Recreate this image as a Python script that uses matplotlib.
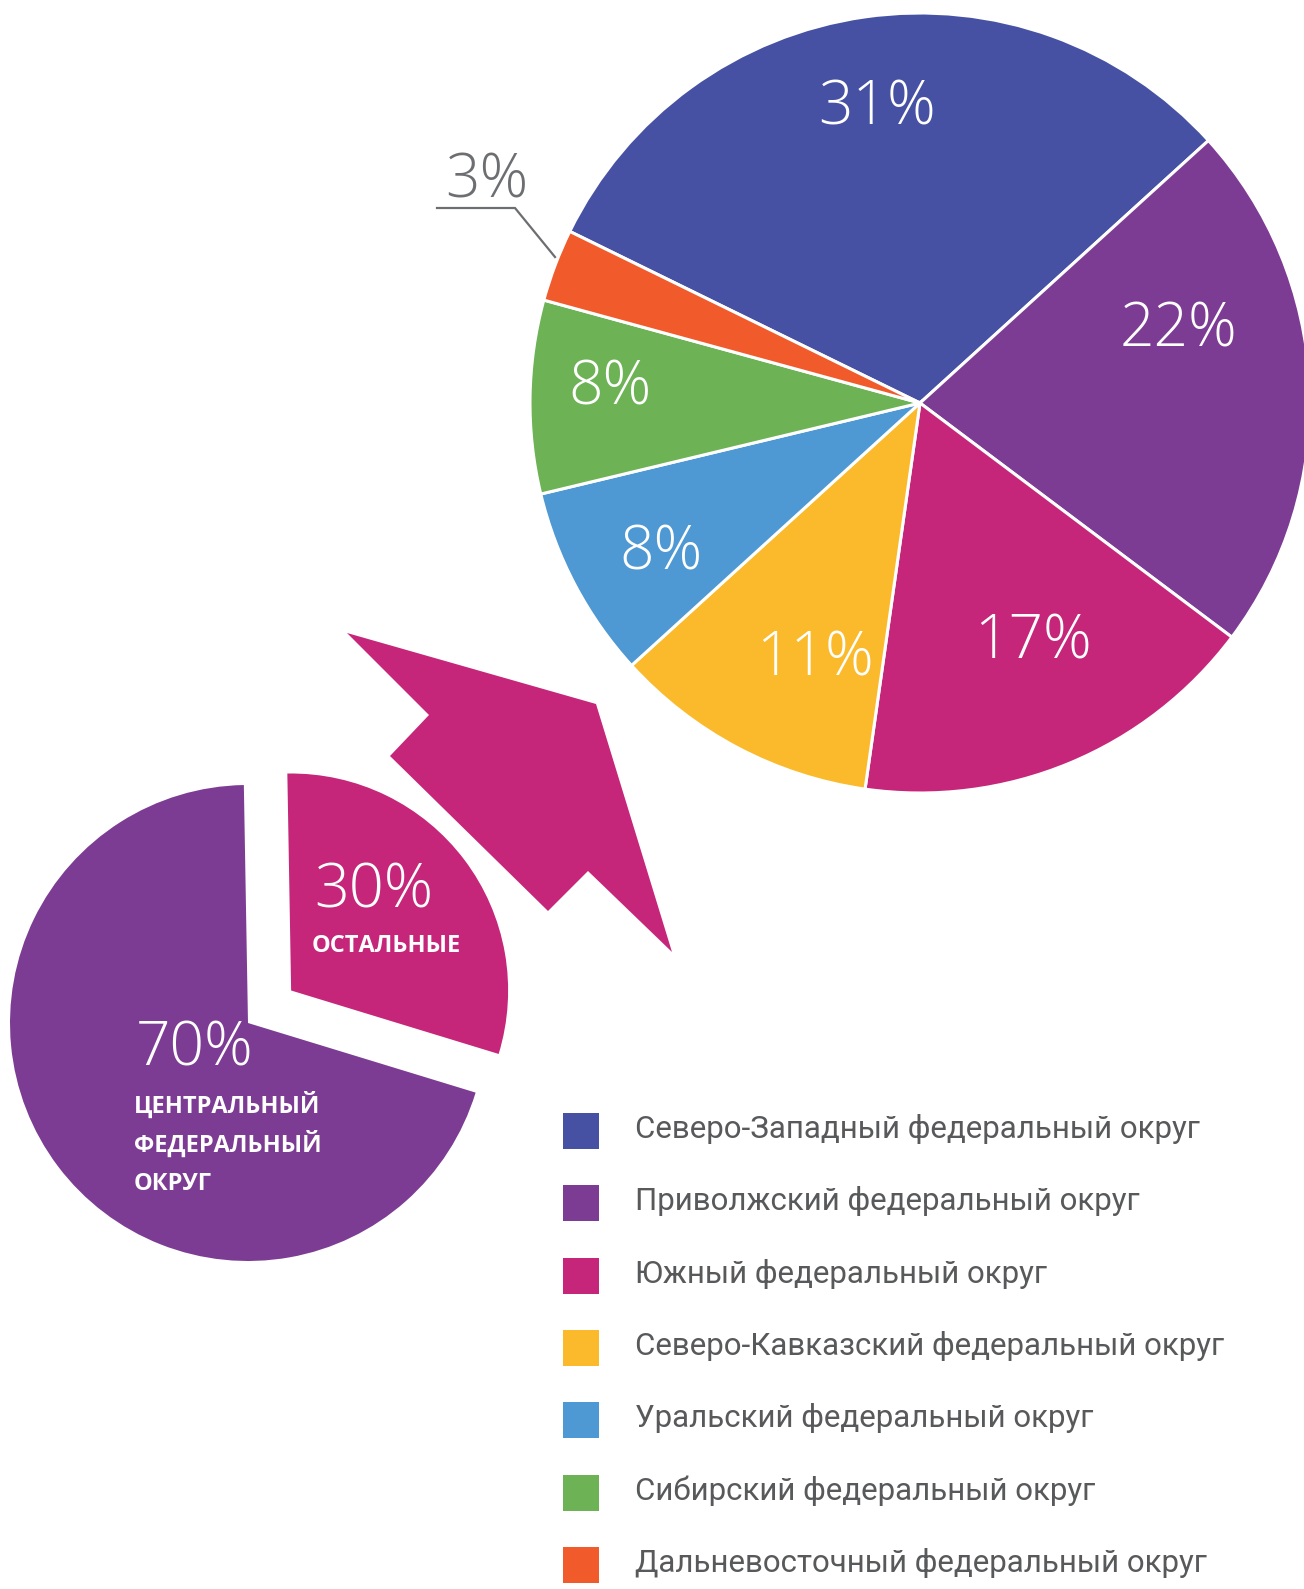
import matplotlib
matplotlib.use("Agg")
import matplotlib.pyplot as plt
from matplotlib.patches import Polygon
import numpy as np

# data
districts = [
    "Северо-Западный федеральный округ",
    "Приволжский федеральный округ",
    "Южный федеральный округ",
    "Северо-Кавказский федеральный округ",
    "Уральский федеральный округ",
    "Сибирский федеральный округ",
    "Дальневосточный федеральный округ",
]
shares = [31, 22, 17, 11, 8, 8, 3]
colors = ["#4651A3", "#7D3C93", "#C6267A", "#FBBA2B", "#4E98D3", "#6DB255", "#F15A2A"]

split_labels = ["70%", "30%"]
split_values = [70, 30]
split_colors = ["#7D3C93", "#C6267A"]

W, H = 1304, 1589
GRAY = "#58595B"
NUM_FONT = ["Open Sans", "DejaVu Sans"]
TXT_FONT = ["Roboto", "DejaVu Sans"]


def fy(y):
    # pixel row (from top) -> data y
    return H - y


fig = plt.figure(figsize=(W / 100, H / 100), dpi=100)
ax = fig.add_axes([0, 0, 1, 1])

# big pie
big_center = (920, fy(403))
big_r = 390
wedges, _ = ax.pie(shares, colors=colors, startangle=153.9, counterclock=False,
                   center=big_center, radius=big_r,
                   wedgeprops=dict(edgecolor="white", linewidth=2.2))

# label baselines inside big pie (offsets from centre, in radii)
label_pos = [(-0.110, 0.713), (0.662, 0.144), (0.290, -0.654), (-0.269, -0.700),
             (-0.664, -0.428), (-0.795, -0.005)]
for val, (dx, dy) in zip(shares[:-1], label_pos):
    ax.text(big_center[0] + dx * big_r, big_center[1] + dy * big_r, f"{val}%",
            color="white", fontsize=43.5, fontweight="light", family=NUM_FONT,
            ha="center", va="baseline")

# 3% callout
ax.text(445, fy(198), f"{shares[-1]}%", color="#6D6E71", fontsize=43.5,
        fontweight="light", family=NUM_FONT, ha="left", va="baseline")
ax.plot([437, 515, 555], [fy(208), fy(208), fy(257)], color="#6D6E71", lw=1.6,
        solid_joinstyle="miter")

# small pie: Central district vs the rest
small_center = (248, fy(1023))
small_r = 238
sw, _ = ax.pie(split_values, colors=split_colors, startangle=91,
               center=small_center, radius=small_r)
# pull out "the rest" slice and shrink it a bit
w = sw[1]
mid = np.deg2rad((w.theta1 + w.theta2) / 2)
w.set_center((small_center[0] + 54 * np.cos(mid), small_center[1] + 54 * np.sin(mid)))
w.set_radius(217)

ax.text(314, fy(907), split_labels[1], color="white", fontsize=44, fontweight="light",
        family=NUM_FONT, ha="left", va="baseline")
ax.text(312, fy(952), "ОСТАЛЬНЫЕ", color="white", fontsize=17, fontweight="bold",
        family=NUM_FONT, ha="left", va="baseline")
ax.text(136, fy(1065), split_labels[0], color="white", fontsize=43.5, fontweight="light",
        family=NUM_FONT, ha="left", va="baseline")
for i, line in enumerate(["ЦЕНТРАЛЬНЫЙ", "ФЕДЕРАЛЬНЫЙ", "ОКРУГ"]):
    ax.text(134, fy(1113 + i * 38.5), line, color="white", fontsize=17, fontweight="bold",
            family=NUM_FONT, ha="left", va="baseline")

# arrow from small pie to big pie
arrow = Polygon([(347, fy(633)), (596, fy(704)), (672, fy(952)), (588, fy(871)),
                 (548, fy(911)), (390, fy(756)), (429, fy(715))],
                closed=True, facecolor="#C6267A", edgecolor="none")
ax.add_patch(arrow)

# legend
for i, (name, c) in enumerate(zip(districts, colors)):
    top = 1113 + i * 72.33
    ax.add_patch(plt.Rectangle((563, fy(top + 36)), 36, 36, facecolor=c, edgecolor="none"))
    ax.text(635, fy(top + 25), name, color=GRAY, fontsize=22.5, family=TXT_FONT,
            ha="left", va="baseline")

ax.set_xlim(0, W)
ax.set_ylim(0, H)
ax.set_aspect("equal")
ax.axis("off")

fig.savefig("out.png", dpi=100, facecolor="white")
